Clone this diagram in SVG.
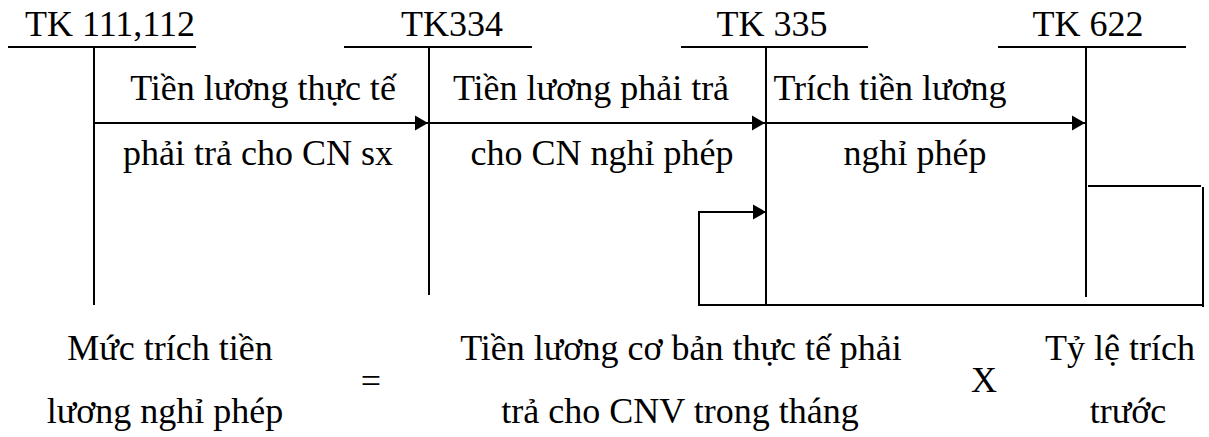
<svg xmlns="http://www.w3.org/2000/svg" width="1209" height="437" viewBox="0 0 1209 437" font-family="'Liberation Serif', 'DejaVu Serif', serif">
  <style>
    text { font-family: 'Liberation Serif', 'DejaVu Serif', serif; font-size: 36px; fill: #000; text-anchor: middle; }
    .ln { stroke: #000; stroke-width: 2; fill: none; }
  </style>
  <defs>
    <marker id="arrow" markerUnits="userSpaceOnUse" markerWidth="14" markerHeight="16" refX="13" refY="8" orient="auto">
      <path d="M0,0.5 L13,8 L0,15.5 Z" fill="#000"/>
    </marker>
  </defs>
  <rect width="1209" height="437" fill="#fff"/>

  <!-- T-accounts -->
  <g id="tk111">
    <text x="110" y="36">TK 111,112</text>
    <line class="ln" x1="8" y1="47" x2="196" y2="47"/>
    <line class="ln" x1="94" y1="47" x2="94" y2="305"/>
  </g>
  <g id="tk334">
    <text x="452" y="36">TK334</text>
    <line class="ln" x1="344" y1="47" x2="532" y2="47"/>
    <line class="ln" x1="429" y1="47" x2="429" y2="295"/>
  </g>
  <g id="tk335">
    <text x="772" y="36">TK 335</text>
    <line class="ln" x1="681" y1="47" x2="868" y2="47"/>
    <line class="ln" x1="766" y1="47" x2="766" y2="304"/>
  </g>
  <g id="tk622">
    <text x="1088" y="36">TK 622</text>
    <line class="ln" x1="998" y1="47" x2="1186" y2="47"/>
    <line class="ln" x1="1086" y1="47" x2="1086" y2="297"/>
  </g>

  <!-- Postings between accounts -->
  <g id="connectors">
    <line class="ln" x1="95" y1="123" x2="428" y2="123" marker-end="url(#arrow)"/>
    <line class="ln" x1="430" y1="123" x2="765" y2="123" marker-end="url(#arrow)"/>
    <line class="ln" x1="767" y1="123" x2="1085" y2="123" marker-end="url(#arrow)"/>
    <polyline class="ln" points="1088,186 1201,186"/>
    <polyline class="ln" points="1203,187 1203,307"/>
    <polyline class="ln" points="1203,305 699,305 699,212 766,212" marker-end="url(#arrow)"/>
  </g>

  <!-- Posting descriptions -->
  <g id="labels">
    <text x="263" y="100">Tiền lương thực tế</text>
    <text x="258" y="165">phải trả cho CN sx</text>
    <text x="591" y="100">Tiền lương phải trả</text>
    <text x="602" y="165">cho CN nghỉ phép</text>
    <text x="890" y="100">Trích tiền lương</text>
    <text x="915" y="165">nghỉ phép</text>
  </g>

  <!-- Accrual formula -->
  <g id="formula">
    <text x="170" y="360">Mức trích tiền</text>
    <text x="165" y="423">lương nghỉ phép</text>
    <text x="371" y="393">=</text>
    <text x="681" y="360">Tiền lương cơ bản thực tế phải</text>
    <text x="680" y="423">trả cho CNV trong tháng</text>
    <text x="984" y="392">X</text>
    <text x="1120" y="360">Tỷ lệ trích</text>
    <text x="1128" y="423">trước</text>
  </g>
</svg>
